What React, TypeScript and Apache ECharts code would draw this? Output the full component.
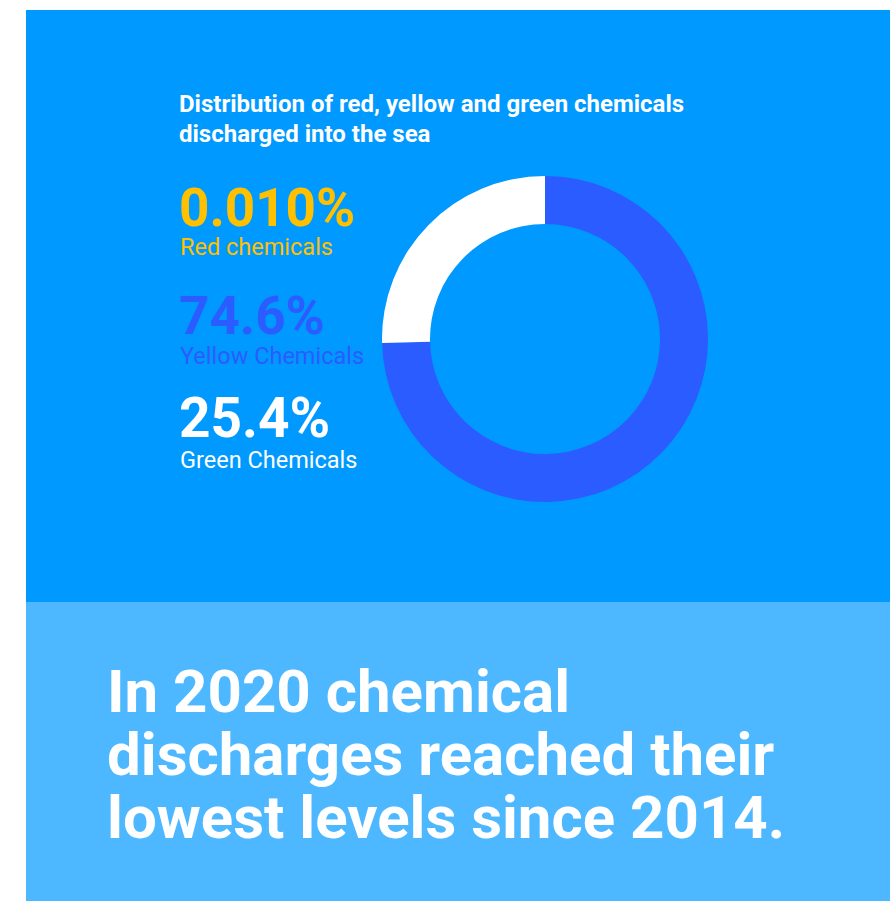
import React, { useEffect, useRef } from "react";
import * as echarts from "echarts";

const categories = ["Red chemicals", "Yellow Chemicals", "Green Chemicals"];
const values = [0.01, 74.6, 25.4];
const valueLabels = ["0.010%", "74.6%", "25.4%"];
const sliceColors = ["#FFC000", "#2B5CFF", "#FFFFFF"];
const titleLines = [
  "Distribution of red, yellow and green chemicals",
  "discharged into the sea",
];
const headlineLines = [
  "In 2020 chemical",
  "discharges reached their",
  "lowest levels since 2014.",
];

export default function App() {
  const ref = useRef<HTMLDivElement>(null);
  useEffect(() => {
    if (!ref.current) return;
    const chart = echarts.init(ref.current, undefined, { renderer: "svg" });
    const F = "Roboto, 'Noto Sans', sans-serif";
    const graphics: any[] = [
      { type: "rect", z: -10, shape: { x: 26, y: 10, width: 864, height: 592 }, style: { fill: "#0099FF" } },
      { type: "rect", z: -10, shape: { x: 26, y: 602, width: 864, height: 299 }, style: { fill: "#4DB8FF" } },
    ];
    const titleMid = [103.8, 133.8];
    titleLines.forEach((t, i) =>
      graphics.push({
        type: "text",
        x: 179,
        y: titleMid[i],
        style: { text: t, fill: "#FFFFFF", font: `bold 24px ${F}`, verticalAlign: "middle", lineHeight: 26 },
      })
    );
    const valMid = [207.5, 316, 417.7];
    const valSize = [53, 53, 55];
    const labMid = [247.3, 355.7, 460.3];
    categories.forEach((c, i) => {
      const col = sliceColors[i];
      graphics.push({
        type: "text",
        x: 179,
        y: valMid[i],
        style: {
          text: valueLabels[i],
          fill: col,
          font: `bold ${valSize[i]}px ${F}`,
          verticalAlign: "middle",
          lineHeight: 38,
        },
      });
      graphics.push({
        type: "text",
        x: 180,
        y: labMid[i],
        style: { text: c, fill: col, font: `23.5px ${F}`, verticalAlign: "middle", lineHeight: 20 },
      });
    });
    const headMid = [691.3, 754.6, 817.9];
    headlineLines.forEach((t, i) =>
      graphics.push({
        type: "text",
        x: 107,
        y: headMid[i],
        style: { text: t, fill: "#FFFFFF", font: `bold 60px ${F}`, verticalAlign: "middle", lineHeight: 60 },
      })
    );
    chart.setOption({
      animation: false,
      graphic: graphics,
      series: [
        {
          type: "pie",
          center: [545, 339],
          radius: [115, 163],
          startAngle: 90,
          clockwise: true,
          label: { show: false },
          labelLine: { show: false },
          emphasis: { disabled: true },
          silent: true,
          itemStyle: { borderWidth: 0 },
          data: categories.map((c, i) => ({
            name: c,
            value: values[i],
            itemStyle: { color: sliceColors[i] },
          })),
        },
      ],
    });
    return () => chart.dispose();
  }, []);
  return (
    <div
      ref={ref}
      style={{ position: "absolute", left: 0, top: 0, width: 890, height: 901, background: "#FFFFFF" }}
    />
  );
}
